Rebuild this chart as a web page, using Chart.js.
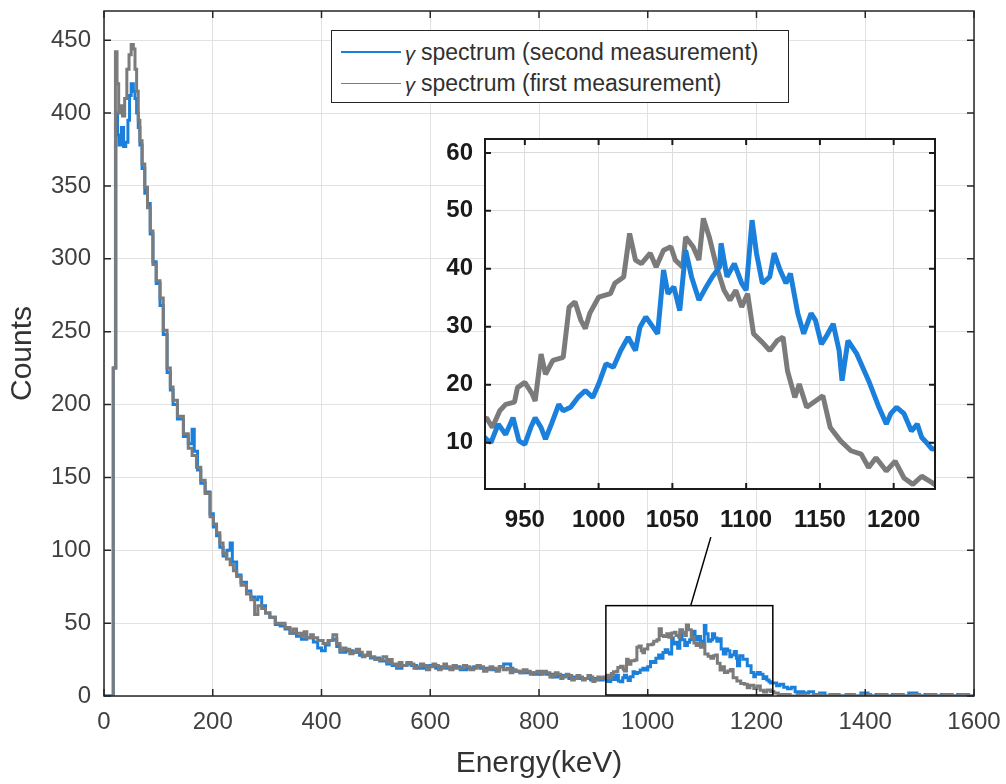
<!DOCTYPE html>
<html>
<head>
<meta charset="utf-8">
<script src="https://cdn.jsdelivr.net/npm/chart.js@4.4.1/dist/chart.umd.min.js"></script>
<style>
  html, body { margin: 0; padding: 0; background: #fff; }
  #wrap { position: relative; width: 1006px; height: 784px; overflow: hidden; }
  #main { position: absolute; left: 0; top: 0; }
  #inset { position: absolute; left: 410px; top: 125px; }
  #legend {
    position: absolute; left: 331px; top: 30px; width: 456px; height: 71px;
    border: 1px solid #262626; background: #fff;
    font-family: "Liberation Sans", Arial, sans-serif; font-size: 23px; color: #303030;
  }
  #legend .row { position: absolute; left: 9px; height: 30px; display: flex; align-items: center; white-space: nowrap; }
  #legend .swatch { display: inline-block; width: 60px; margin-right: 4px; }
  #legend .g { font-style: italic; font-size: 20px; margin-right: 6px; position: relative; top: 2px; }
</style>
</head>
<body>
<div id="wrap">
  <canvas id="main" width="1006" height="784"></canvas>
  <canvas id="inset" width="540" height="420"></canvas>
  <div id="legend"></div>
</div>
<script>
// Données : énergie (keV) et nombre de coups
const seriesLabels = ["spectrum (second measurement)", "spectrum (first measurement)"];

// Première mesure (gris)
const energyFirst = [0, 16, 17, 21, 24, 27, 30, 34, 38, 42, 46, 50, 54, 57, 60, 63, 66, 70, 75, 80, 85, 90, 96, 103, 109, 116, 122, 127, 135, 146, 155, 162, 170, 178, 186, 195, 201, 207, 213, 219, 225, 232, 238, 244, 252, 262, 270, 277, 283, 290, 297, 305, 315, 324, 333, 342, 348, 354, 363, 368, 373, 380, 385, 393, 403, 412, 421, 428, 434, 440, 445, 452, 458, 464, 470, 475, 480, 485, 490, 498, 507, 513, 520, 525, 530, 538, 543, 548, 557, 565, 570, 575, 582, 588, 593, 599, 605, 610, 615, 620, 625, 630, 636, 642, 648, 655, 661, 667, 673, 680, 686, 692, 698, 704, 710, 715, 721, 727, 734, 741, 747, 752, 758, 765, 771, 778, 784, 790, 796, 803, 808, 814, 820, 825, 830, 835, 840, 844, 850, 855, 860, 865, 870, 875, 880, 885, 890, 895, 899, 903, 908, 912, 918,
  924, 928, 933, 937, 943, 945, 950, 955, 957, 961, 964, 969, 976, 980, 984, 988, 991, 994, 1000, 1008, 1011, 1017, 1021, 1025, 1029, 1035, 1039, 1044, 1049, 1052, 1057, 1059, 1064, 1068, 1071, 1075, 1080, 1085, 1089, 1093, 1097, 1101, 1105, 1111, 1116, 1121, 1125, 1128, 1133, 1136, 1141, 1147, 1152, 1157, 1164, 1171, 1178, 1183, 1188, 1195, 1201, 1207, 1213, 1219, 1226,
  1232, 1240, 1250, 1262, 1275, 1290, 1305, 1320, 1335, 1350, 1365, 1380, 1395, 1410, 1425, 1440, 1455, 1470, 1485, 1500, 1515, 1530, 1545, 1560, 1575, 1590, 1600];
const countsFirst = [0, 0, 225, 442, 420, 400, 405, 398, 410, 430, 440, 447, 444, 430, 415, 395, 381, 365, 349, 335, 319, 296, 285, 273, 251, 225, 212, 203, 192, 180, 170, 165, 157, 148, 139, 123, 118, 112, 105, 98, 94, 90, 86, 82, 76, 70, 66, 56, 62, 60, 57, 54, 50, 50, 47, 43, 46, 43, 41, 44, 40, 42, 40, 38, 36, 38, 42, 36, 31, 33, 32, 29, 30, 32, 30, 27, 28, 30, 27, 25, 25, 27, 23, 25, 22, 20, 23, 21, 23, 22, 19, 20, 22, 21, 18, 20, 22, 21, 18, 19, 22, 20, 18, 21, 19, 19, 21, 20, 18, 19, 21, 20, 17, 18, 20, 19, 17, 20, 18, 19, 16, 18, 17, 16, 18, 17, 15, 16, 17, 15, 17, 16, 13, 14, 16, 15, 12, 13, 15, 14, 11, 12, 14, 13, 11, 12, 14, 13, 10, 11, 13, 12, 13,
  14.3, 12.6, 15.5, 16.6, 17, 19.5, 20.4, 18.4, 17.2, 25.3, 21.8, 24.2, 24.7, 33.4, 34.3, 31.1, 29.7, 32.3, 35.1, 35.7, 37.5, 38.6, 46.1, 41.5, 40.9, 42.7, 40.3, 43.2, 43.8, 41.5, 40.3, 45.5, 43.8, 41.5, 48.7, 45.5, 40.3, 36.3, 34.6, 36.3, 33.4, 35.7, 28.8, 27.3, 25.9, 27.6, 28.2, 22.4, 17.8, 20.1, 16.1, 17.2, 18.1, 12.6, 10.3, 8.6, 8, 5.7, 7.4, 5.1, 6.8, 3.9, 2.8, 4.2, 3.1,
  2, 1, 1, 0, 1, 0, 1, 0, 1, 0, 1, 0, 1, 0, 1, 0, 1, 0, 1, 0, 1, 0, 1, 0, 1, 0, 1];

// Deuxième mesure (bleu)
const energySecond = [0, 16, 17, 22, 25, 28, 32, 36, 40, 44, 47, 50, 54, 57, 60, 63, 66, 70, 75, 80, 85, 90, 96, 103, 109, 116, 122, 127, 135, 146, 155, 162, 166, 172, 178, 186, 195, 201, 207, 213, 219, 226, 232, 236, 244, 252, 262, 270, 277, 283, 290, 297, 305, 315, 324, 333, 342, 354, 363, 373, 385, 393, 400, 407, 414, 421, 428, 434, 445, 458, 470, 480, 490, 507, 520, 530, 538, 548, 557, 565, 575, 588, 599, 610, 620, 630, 642, 655, 667, 680, 692, 704, 715, 727, 735, 741, 748, 752, 765, 778, 790, 803, 814, 825, 835, 844, 855, 865, 875, 885, 895, 903, 912, 918,
  924, 927, 932, 937, 942, 946, 950, 954, 957, 961, 964, 968, 973, 976, 981, 986, 991, 996, 1000, 1005, 1010, 1015, 1020, 1025, 1028, 1032, 1037, 1040, 1044, 1047, 1051, 1055, 1059, 1063, 1068, 1073, 1077, 1082, 1083, 1087, 1092, 1097, 1100, 1104, 1107, 1111, 1116, 1119, 1123, 1127, 1130, 1135, 1139, 1144, 1147, 1151, 1154, 1159, 1163, 1165, 1169, 1175, 1183, 1190, 1195, 1198, 1202, 1207, 1212, 1216, 1219, 1223, 1226,
  1231, 1237, 1243, 1250, 1257, 1264, 1271, 1279, 1287, 1296, 1305, 1316, 1326, 1340, 1352, 1365, 1378, 1392, 1405, 1420, 1435, 1450, 1465, 1480, 1495, 1510, 1525, 1540, 1555, 1570, 1585, 1600];
const countsSecond = [0, 0, 225, 400, 385, 378, 390, 377, 380, 395, 412, 420, 415, 410, 400, 390, 378, 362, 345, 338, 317, 298, 283, 268, 248, 222, 210, 200, 190, 178, 173, 183, 168, 155, 146, 140, 125, 116, 110, 102, 96, 100, 105, 92, 83, 78, 72, 68, 66, 68, 62, 57, 54, 49, 48, 46, 43, 41, 39, 40, 37, 33, 31, 35, 38, 39, 34, 30, 31, 30, 28, 28, 26, 24, 22, 21, 19, 21, 22, 21, 19, 20, 21, 19, 20, 19, 20, 18, 19, 20, 19, 19, 18, 20, 22, 22, 19, 17, 16, 16, 15, 16, 15, 13, 14, 14, 12, 13, 12, 12, 11, 12, 11, 12,
  10.6, 10, 13.2, 11.4, 14.3, 10.3, 9.7, 12.6, 14.3, 12.6, 10.6, 13.2, 16.6, 15.5, 16.1, 17.8, 19, 17.8, 20.1, 23.6, 23, 25.9, 28.2, 25.9, 29.9, 31.7, 29.9, 28.8, 39.8, 35.7, 36.9, 32.8, 43.2, 38.6, 34.6, 36.9, 38.6, 40.3, 44.4, 38.6, 40.9, 37.5, 36.3, 48.4, 42.7, 37.5, 38.6, 42.7, 39.8, 37.5, 39.2, 32.3, 28.8, 32.3, 31.1, 27, 28.2, 30.5, 25.9, 20.7, 27.6, 25.3, 20.7, 16.1, 13.2, 15, 16.1, 15, 12, 13.2, 10.9, 9.8, 8.9,
  9, 7, 8, 6, 5, 6, 3, 3, 2, 3, 1, 2, 0, 1, 0, 1, 0, 2, 0, 1, 0, 1, 0, 2, 0, 1, 0, 1, 0, 1, 0, 1];

// Graduations
const xTicks = [0, 200, 400, 600, 800, 1000, 1200, 1400, 1600];
const yTicks = [0, 50, 100, 150, 200, 250, 300, 350, 400, 450];
const insetXTicks = [950, 1000, 1050, 1100, 1150, 1200];
const insetYTicks = [10, 20, 30, 40, 50, 60];

// Zone agrandie et trait de rappel (en keV / coups)
const zoomX = [923, 1230];
const zoomY = [0, 62];
const connectorX = [1079, 1116];
const connectorY = [62, 109];

const BLUE = "#1a80db";
const GREY = "#7b7b7b";
const FONT = "'Liberation Sans', Arial, Helvetica, sans-serif";

const toPoints = (xs, ys) => xs.map((x, i) => ({ x: x, y: ys[i] }));

// Cadre + graduations vers l'intérieur (style MATLAB)
const boxPlugin = {
  id: "axesBox",
  beforeDraw: (chart, args, opts) => {
    if (!opts.fill) return;
    const { ctx, chartArea: a } = chart;
    ctx.save();
    ctx.fillStyle = opts.fill;
    ctx.fillRect(a.left, a.top, a.right - a.left, a.bottom - a.top);
    ctx.restore();
  },
  afterDraw: (chart, args, opts) => {
    const { ctx, chartArea: a, scales } = chart;
    const len = opts.tickLength || 7;
    ctx.save();
    ctx.strokeStyle = opts.color || "#262626";
    ctx.lineWidth = opts.lineWidth || 1.5;
    ctx.beginPath();
    scales.x.ticks.forEach((t) => {
      const px = scales.x.getPixelForValue(t.value);
      ctx.moveTo(px, a.bottom); ctx.lineTo(px, a.bottom - len);
      ctx.moveTo(px, a.top); ctx.lineTo(px, a.top + len);
    });
    scales.y.ticks.forEach((t) => {
      const py = scales.y.getPixelForValue(t.value);
      ctx.moveTo(a.left, py); ctx.lineTo(a.left + len, py);
      ctx.moveTo(a.right, py); ctx.lineTo(a.right - len, py);
    });
    ctx.stroke();
    ctx.strokeRect(a.left, a.top, a.right - a.left, a.bottom - a.top);
    ctx.restore();
  },
};

// Rectangle de la zone agrandie + trait vers l'encart
const zoomMarker = {
  id: "zoomMarker",
  afterDatasetsDraw: (chart) => {
    const { ctx, scales: { x, y } } = chart;
    const x0 = x.getPixelForValue(zoomX[0]), x1 = x.getPixelForValue(zoomX[1]);
    const y0 = y.getPixelForValue(zoomY[0]), y1 = y.getPixelForValue(zoomY[1]);
    ctx.save();
    ctx.strokeStyle = "#000";
    ctx.lineWidth = 1.5;
    ctx.strokeRect(x0, y1, x1 - x0, y0 - y1 - 1);
    ctx.beginPath();
    ctx.moveTo(x.getPixelForValue(connectorX[0]), y.getPixelForValue(connectorY[0]));
    ctx.lineTo(x.getPixelForValue(connectorX[1]), y.getPixelForValue(connectorY[1]));
    ctx.stroke();
    ctx.restore();
  },
};

const setTicks = (list) => (scale) => { scale.ticks = list.map((v) => ({ value: v })); };
const plainLabel = (value) => String(value);

// Graphique principal
const mainChart = new Chart(document.getElementById("main").getContext("2d"), {
  type: "line",
  data: {
    datasets: [
      { label: seriesLabels[0], data: toPoints(energySecond, countsSecond), borderColor: BLUE, borderWidth: 3, pointRadius: 0, stepped: true, order: 1, clip: 0 },
      { label: seriesLabels[1], data: toPoints(energyFirst, countsFirst), borderColor: GREY, borderWidth: 3, pointRadius: 0, stepped: true, order: 0, clip: 0 },
    ],
  },
  options: {
    responsive: false,
    animation: false,
    layout: { padding: { left: 0, top: 11, right: 32, bottom: 0 } },
    plugins: { legend: { display: false }, tooltip: { enabled: false }, axesBox: { tickLength: 7 } },
    scales: {
      x: {
        type: "linear", min: 0, max: 1600,
        afterBuildTicks: setTicks(xTicks),
        afterFit: (s) => { s.height = 88; s.paddingLeft = 0; s.paddingRight = 0; },
        grid: { color: "#e2e2e2", drawTicks: false },
        border: { display: false },
        ticks: { font: { family: FONT, size: 24 }, color: "#404040", padding: 12, maxRotation: 0, autoSkip: false, callback: plainLabel },
        title: { display: true, text: "Energy(keV)", color: "#333", font: { family: FONT, size: 30 }, padding: { top: 0, bottom: 2 } },
      },
      y: {
        type: "linear", min: 0, max: 470,
        afterBuildTicks: setTicks(yTicks),
        afterFit: (s) => { s.width = 104; s.paddingTop = 0; s.paddingBottom = 0; },
        grid: { color: "#e2e2e2", drawTicks: false },
        border: { display: false },
        ticks: { font: { family: FONT, size: 24 }, color: "#404040", padding: 13, autoSkip: false, callback: plainLabel },
        title: { display: true, text: "Counts", color: "#333", font: { family: FONT, size: 30 }, padding: { top: 5, bottom: 0 } },
      },
    },
  },
  plugins: [boxPlugin, zoomMarker],
});

// Encart : agrandissement du pic
const insetChart = new Chart(document.getElementById("inset").getContext("2d"), {
  type: "line",
  data: {
    datasets: [
      { label: seriesLabels[0], data: toPoints(energySecond, countsSecond), borderColor: BLUE, borderWidth: 5, pointRadius: 0, borderJoinStyle: "bevel", clip: 0 },
      { label: seriesLabels[1], data: toPoints(energyFirst, countsFirst), borderColor: GREY, borderWidth: 5, pointRadius: 0, borderJoinStyle: "bevel", clip: 0 },
    ],
  },
  options: {
    responsive: false,
    animation: false,
    layout: { padding: { left: 0, top: 14, right: 15, bottom: 0 } },
    plugins: { legend: { display: false }, tooltip: { enabled: false }, axesBox: { tickLength: 6, fill: "#fff", color: "#1a1a1a", lineWidth: 2 } },
    scales: {
      x: {
        type: "linear", min: 923, max: 1228,
        afterBuildTicks: setTicks(insetXTicks),
        afterFit: (s) => { s.height = 56; s.paddingLeft = 0; s.paddingRight = 0; },
        grid: { color: "#dcdcdc", drawTicks: false },
        border: { display: false },
        ticks: { font: { family: FONT, size: 24, weight: "bold" }, color: "#1a1a1a", padding: 17, maxRotation: 0, autoSkip: false, callback: plainLabel },
      },
      y: {
        type: "linear", min: 2, max: 62.4,
        afterBuildTicks: setTicks(insetYTicks),
        afterFit: (s) => { s.width = 75; s.paddingTop = 0; s.paddingBottom = 0; },
        grid: { color: "#dcdcdc", drawTicks: false },
        border: { display: false },
        ticks: { font: { family: FONT, size: 24, weight: "bold" }, color: "#1a1a1a", padding: 12, autoSkip: false, callback: plainLabel },
      },
    },
  },
  plugins: [boxPlugin],
});

// Légende HTML construite à partir des jeux de données
const legendEl = document.getElementById("legend");
mainChart.data.datasets.forEach((ds, i) => {
  const row = document.createElement("div");
  row.className = "row";
  row.style.top = (i === 0 ? 6 : 37) + "px";
  const sw = document.createElement("span");
  sw.className = "swatch";
  sw.style.borderTop = (i === 0 ? 2 : 1.5) + "px solid " + ds.borderColor;
  const g = document.createElement("span");
  g.className = "g";
  g.textContent = "γ";
  const txt = document.createElement("span");
  txt.textContent = ds.label;
  row.append(sw, g, txt);
  legendEl.appendChild(row);
});
</script>
</body>
</html>
